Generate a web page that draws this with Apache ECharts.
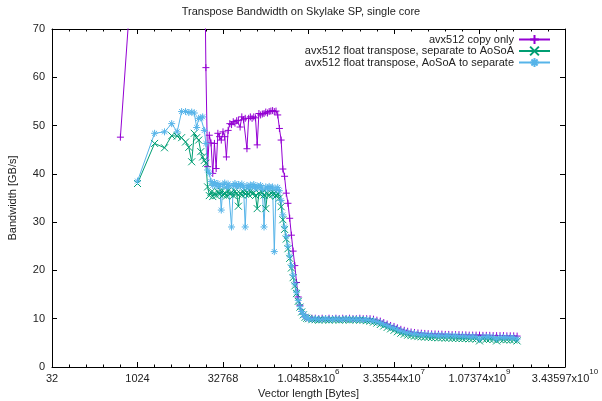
<!DOCTYPE html>
<html>
<head>
<meta charset="utf-8">
<script src="https://cdn.jsdelivr.net/npm/echarts@6/dist/echarts.min.js"></script>
<style>html,body{margin:0;padding:0;background:#fff;}#c{width:602px;height:401px;}</style>
</head>
<body>
<div id="c"></div>
<script>
// x values: log2 of vector length in bytes
const log2Size = [
  9, 10, 11, 11.58, 12, 12.32, 12.58, 12.81, 13, 13.17, 13.32, 13.46, 13.58, 13.7, 13.81, 13.91,
  14, 14.1, 14.2, 14.3, 14.4, 14.5, 14.6, 14.7, 14.8, 14.9,
  15, 15.1, 15.2, 15.3, 15.4, 15.5, 15.6, 15.7, 15.8, 15.9,
  16, 16.1, 16.2, 16.3, 16.4, 16.5, 16.6, 16.7, 16.8, 16.9,
  17, 17.1, 17.2, 17.3, 17.4, 17.5, 17.6, 17.7, 17.8, 17.9,
  18, 18.1, 18.2, 18.3, 18.4, 18.5, 18.6, 18.7, 18.8, 18.9,
  19, 19.1, 19.2, 19.3, 19.4, 19.5, 19.6, 19.7, 19.8, 19.9,
  20,
  20.2, 20.4, 20.6, 20.8, 21, 21.2, 21.4, 21.6, 21.8, 22, 22.2, 22.4, 22.6, 22.8, 23, 23.2, 23.4,
  23.6, 23.8, 24, 24.2, 24.4, 24.6, 24.8, 25, 25.2, 25.4, 25.6, 25.8, 26, 26.2, 26.4, 26.6, 26.8, 27,
  27.2, 27.4, 27.6, 27.8, 28, 28.2, 28.4, 28.6, 28.8, 29, 29.2, 29.4, 29.6, 29.8, 30, 30.2, 30.4,
  30.6, 30.8, 31, 31.2, 31.4, 31.6, 31.8, 32, 32.2
];

const copyOnly = [
  47.6, 98, 105, 110, 112, 115, 118, 120, 118, 116, 115, 112, 110, 105, 100, 90,
  62, 41.5, 48, 46.4, 40.1, 46.3, 41.1, 48.4, 47.7, 47,
  48.7, 47.7, 43.5, 49, 50.4, 50.2, 50.8, 50.5, 51, 51.1,
  49.7, 51.8, 51.2, 51.5, 45.2, 51.5, 51.8, 51.5, 51.8, 51.6,
  46, 52.5, 52.2, 52.4, 52.5, 52.8, 52.6, 52.9, 53, 53.1,
  52.9, 53, 52.2, 49.4, 47, 41, 39.5, 36, 33.9, 30.8,
  27.3, 24, 21, 17.5, 14.5, 12.8, 11.5, 10.9, 10.4, 10.2,
  10.1,
  10.1, 10.1, 10.0, 10.1, 10.0, 10.1, 10.0, 10.1, 10.0, 10.1, 10.0, 10.1, 10.0, 10.0, 10.1, 10.0, 10.0,
  10.0, 9.9, 9.7, 9.5, 9.2, 8.9, 8.6, 8.4, 8.1, 7.8, 7.6, 7.4, 7.25, 7.15, 7.05, 7.0, 6.95, 6.9,
  6.85, 6.85, 6.8, 6.8, 6.75, 6.75, 6.7, 6.7, 6.7, 6.65, 6.65, 6.6, 6.6, 6.6, 6.6, 6.55, 6.55,
  6.55, 6.5, 6.5, 6.5, 6.5, 6.45, 6.45, 6.45, 6.4
];

const sepToAoSoA = [
  null, 38.0, 46.3, 45.4, 47.9, 47.8, 47.5, 46.6, 45.5, 42.5, 48.4, 47.5, 47.0, 44.6, 43.5, 42.8,
  42.2, 37.3, 35.5, 36.2, 35.3, 36, 35.5, 36.3, 35.8, 36.4,
  35.6, 36.1, 35.4, 36.5, 35.8, 36.2, 35.5, 36.4, 35.9, 33.3,
  36, 35.6, 36.3, 35.8, 36.2, 35.7, 36.4, 35.9, 36.1, 35.5,
  32.8, 36, 35.7, 36.2, 35.6, 32.8, 36, 35.5, 36.1, 35.7,
  36, 35.4, 35.9, 35, 33.2, 30.5, 28.5, 26.5, 24.5, 22.5,
  20.5, 18.5, 16.8, 15.2, 13.6, 12.4, 11.4, 10.8, 10.3, 10.1,
  10,
  9.8, 9.8, 9.7, 9.8, 9.8, 9.7, 9.8, 9.8, 9.7, 9.8, 9.8, 9.7, 9.8, 9.8, 9.7, 9.7, 9.6,
  9.5, 9.3, 9.1, 8.8, 8.5, 8.2, 7.9, 7.6, 7.3, 7.0, 6.8, 6.6, 6.5, 6.4, 6.3, 6.25, 6.2, 6.15,
  6.1, 6.1, 6.05, 6.05, 6.0, 6.0, 5.95, 5.95, 5.9, 5.9, 5.9, 5.85, 5.85, 5.8, 5.4, 5.8, 5.75,
  5.75, 5.7, 5.4, 5.7, 5.65, 5.65, 5.6, 5.6, 5.4
];

const aosoaToSep = [
  null, 38.5, 48.4, 48.7, 50.4, 48.7, 52.9, 52.9, 52.7, 52.8, 52.6, 49.6, 51.5, 51.6, 51.8, 49.0,
  46.3, 40.8, 40.1, 38.4, 37.6, 38.2, 37.5, 38, 37.4, 32.5,
  37.8, 38.1, 37.2, 37.9, 37.5, 29, 37.6, 38, 37.3, 37.8,
  37.5, 37.9, 37.2, 29, 37.6, 37.1, 37.7, 37.3, 37.8, 37,
  37.5, 37.2, 37.6, 36.8, 29, 37.3, 36.9, 37.4, 37, 37.3,
  23.9, 36.8, 37.2, 36.5, 34.5, 31.5, 29, 27, 25, 23,
  21, 19, 17.2, 15.5, 13.8, 12.5, 11.5, 10.9, 10.4, 10.2,
  10.0,
  9.9, 10.0, 9.9, 9.9, 10.0, 9.9, 9.9, 10.0, 9.9, 9.9, 10.0, 9.9, 9.9, 9.9, 9.9, 9.8, 9.8,
  9.7, 9.6, 9.4, 9.2, 8.9, 8.6, 8.3, 8.1, 7.8, 7.5, 7.3, 7.1, 7.0, 6.9, 6.8, 6.75, 6.7, 6.65,
  6.6, 6.6, 6.55, 6.55, 6.5, 6.5, 6.45, 6.45, 6.4, 6.4, 6.4, 6.35, 6.35, 6.3, 5.8, 6.3, 6.25,
  6.25, 6.2, 5.8, 6.2, 6.15, 6.15, 6.1, 6.1, 5.8
];

const seriesNames = [
  'avx512 copy only',
  'avx512 float transpose, separate to AoSoA',
  'avx512 float transpose, AoSoA to separate'
];
const seriesColors = ['#9400d3', '#009e73', '#56b4e9'];

const xTickExp = [5, 10, 15, 20, 25, 30, 35];
const xTickMantissa = ['32', '1024', '32768', '1.04858x10', '3.35544x10', '1.07374x10', '3.43597x10'];
const xTickPower = ['', '', '', '6', '7', '9', '10'];

const SYM_PLUS = 'path://M0,5L10,5M5,0L5,10';
const SYM_CROSS = 'path://M0,0L10,10M10,0L0,10';
const SYM_STAR = 'path://M0,5L10,5M5,0L5,10M1.5,1.5L8.5,8.5M8.5,1.5L1.5,8.5';
const symbols = [SYM_PLUS, SYM_CROSS, SYM_STAR];

const ys = [copyOnly, sepToAoSoA, aosoaToSep];

const FONT = 'Liberation Sans, Arial, sans-serif';
const chart = echarts.init(document.getElementById('c'), null, {renderer: 'canvas'});

function xLabel(v) {
  const i = xTickExp.indexOf(Math.round(v));
  if (i < 0) return '';
  return '{m|' + xTickMantissa[i] + '}' + (xTickPower[i] ? '{s|' + xTickPower[i] + '}' : '');
}

const axisCommon = {
  axisLine: {show: true, onZero: false, lineStyle: {color: '#000', width: 1}},
  axisTick: {show: true, inside: true, length: 5, lineStyle: {color: '#000', width: 1}},
  splitLine: {show: false}
};

const xBase = Object.assign({}, axisCommon, {
  type: 'value', min: 5, max: 35, interval: 5,
  minorTick: {show: true, splitNumber: 5, length: 2.5, lineStyle: {color: '#000', width: 1}},
  minorSplitLine: {show: false}
});
const yBase = Object.assign({}, axisCommon, {
  type: 'value', min: 0, max: 70, interval: 10
});

chart.setOption({
  animation: false,
  backgroundColor: '#fff',
  textStyle: {fontFamily: FONT},
  title: {
    text: 'Transpose Bandwidth on Skylake SP, single core',
    left: 'center', top: 1,
    textStyle: {fontSize: 11, fontWeight: 'normal', color: '#222', fontFamily: FONT}
  },
  legend: {
    orient: 'vertical', right: 51, top: 34, align: 'right',
    itemWidth: 31, itemHeight: 11, itemGap: 0.5, padding: 0,
    textStyle: {fontSize: 11, color: '#222', fontFamily: FONT},
    data: seriesNames
  },
  grid: {left: 52, right: 37, top: 29, bottom: 34, containLabel: false, outerBoundsMode: 'none'},
  xAxis: [
    Object.assign({}, xBase, {
      position: 'bottom',
      name: 'Vector length [Bytes]', nameLocation: 'middle', nameGap: 20,
      nameTextStyle: {fontSize: 11, color: '#222', fontFamily: FONT},
      axisLabel: {
        show: true, margin: 1, color: '#222', fontFamily: FONT,
        formatter: xLabel,
        rich: {
          m: {fontSize: 11, lineHeight: 16, verticalAlign: 'bottom', color: '#222', fontFamily: FONT},
          s: {fontSize: 8, lineHeight: 9, verticalAlign: 'top', color: '#222', fontFamily: FONT}
        }
      }
    }),
    Object.assign({}, xBase, {position: 'top', axisLabel: {show: false}})
  ],
  yAxis: [
    Object.assign({}, yBase, {
      position: 'left',
      name: 'Bandwidth [GB/s]', nameLocation: 'middle', nameGap: 34, nameRotate: 90,
      nameTextStyle: {fontSize: 11, color: '#222', fontFamily: FONT},
      axisLabel: {show: true, margin: 7, fontSize: 11, color: '#222', fontFamily: FONT}
    }),
    Object.assign({}, yBase, {position: 'right', axisLabel: {show: false}})
  ],
  series: seriesNames.map(function (name, k) {
    return {
      name: name,
      type: 'line',
      xAxisIndex: 0, yAxisIndex: 0,
      data: log2Size.map(function (x, i) { return [x, ys[k][i]]; }),
      symbol: symbols[k],
      symbolSize: 7,
      showSymbol: true,
      clip: true,
      connectNulls: false,
      itemStyle: {color: seriesColors[k], borderColor: seriesColors[k], borderWidth: 1},
      lineStyle: {color: seriesColors[k], width: 1},
      emphasis: {disabled: true}
    };
  })
});
</script>
</body>
</html>
